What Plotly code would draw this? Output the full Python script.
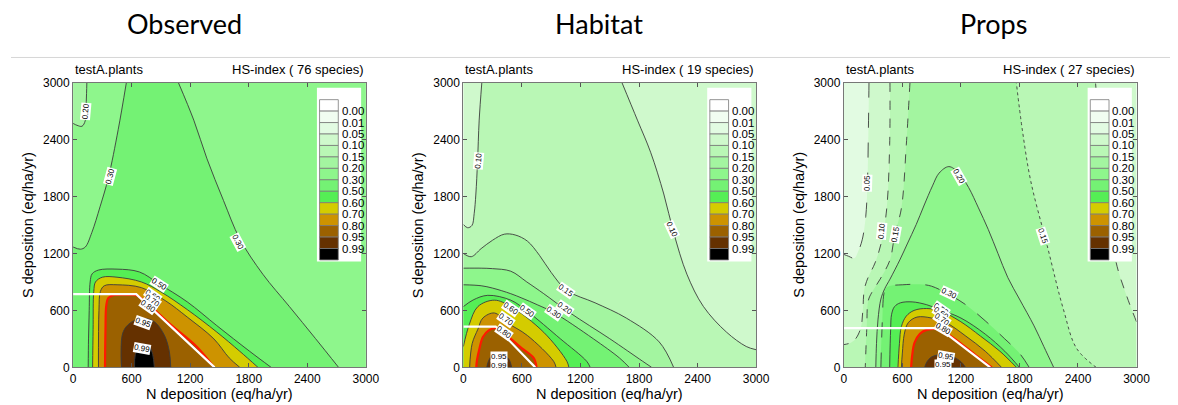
import plotly.graph_objects as go

# ---------------- shared scale / legend ----------------
LEVELS = [0.00, 0.01, 0.05, 0.10, 0.15, 0.20, 0.30, 0.50, 0.60, 0.70, 0.80, 0.95, 0.99]
LEVEL_TEXT = ["%.2f" % v for v in LEVELS]
# BAND_COLORS[k] = colour of values just below LEVELS[k]; last = above 0.99
BAND_COLORS = ["#ffffff", "#f1fdf1", "#e2fbe2", "#cff9cc", "#b9f7b5", "#a3f5a0",
               "#8ef68c", "#74f274", "#55ee55", "#d4cc00", "#cd9300", "#9b6100",
               "#653100", "#000000"]
PANEL_TITLES = ["Observed", "Habitat", "Props"]
SPECIES = [76, 19, 27]
AXIS_MAX = 3000
AXIS_TICKS = [0, 600, 1200, 1800, 2400, 3000]

# ---------------- Observed (N, S deposition along each HS-index contour) ----------------
OBS_020_N = [141, 135, 125, 91, 40, 0]
OBS_020_S = [3000, 2800, 2600, 2540, 2550, 2570]
OBS_030A_N = [546, 462, 361, 276, 192, 125, 74, 0]
OBS_030A_S = [3000, 2503, 1995, 1691, 1420, 1268, 1245, 1268]
OBS_030B_N = [2721, 2484, 2215, 1945, 1709, 1541, 1372, 1237, 1079]
OBS_030B_S = [0, 304, 643, 981, 1353, 1759, 2198, 2604, 3000]
OBS_050_N = [2030, 1810, 1473, 1170, 880, 680, 450, 260, 195, 175, 165, 158, 155]
OBS_050_S = [0, 169, 440, 690, 880, 1005, 1035, 1025, 985, 900, 600, 300, 0]
OBS_060_N = [1895, 1709, 1473, 1170, 900, 700, 450, 300, 230, 212, 205, 200]
OBS_060_S = [0, 169, 372, 609, 795, 900, 950, 950, 900, 800, 400, 0]
OBS_070_N = [1709, 1600, 1443, 1170, 950, 700, 450, 320, 280, 265, 260]
OBS_070_S = [0, 100, 300, 530, 700, 840, 870, 860, 800, 600, 0]
OBS_080_N = [1445, 1270, 1000, 780, 660, 550, 420, 360, 340, 332, 327]
OBS_080_S = [0, 215, 450, 655, 755, 765, 762, 730, 650, 400, 0]
OBS_095_N = [1001, 986, 936, 834, 733, 631, 546, 503, 496]
OBS_095_S = [0, 169, 338, 480, 515, 495, 430, 338, 0]
OBS_099_N = [833, 816, 782, 732, 681, 638, 630]
OBS_099_S = [0, 135, 220, 240, 220, 135, 0]
OBS_CL_N = [0, 647, 1450]
OBS_CL_S = [771, 771, 0]
OBS_LABELS = [("0.20", 125, 2700, -85), ("0.30", 378, 2012, -75), ("0.30", 1693, 1319, 62),
              ("0.50", 885, 872, 33), ("0.60", 815, 760, 35), ("0.70", 805, 700, 35),
              ("0.80", 770, 640, 35), ("0.95", 714, 470, 20), ("0.99", 705, 196, 10)]

# ---------------- Habitat ----------------
HAB_010A_N = [189, 162, 145, 128, 111, 88, 44, 0]
HAB_010A_S = [3000, 2604, 2164, 1826, 1623, 1495, 1471, 1505]
HAB_010B_N = [3000, 2899, 2696, 2459, 2291, 2155, 2054, 1919, 1784, 1625]
HAB_010B_S = [186, 220, 372, 643, 981, 1420, 1826, 2266, 2604, 3000]
HAB_015_N = [2155, 2007, 1669, 1350, 1061, 900, 780, 656, 530, 419, 300, 182, 81, 0]
HAB_015_S = [0, 268, 520, 680, 810, 1000, 1180, 1330, 1395, 1403, 1340, 1251, 1166, 1200]
HAB_020_N = [1930, 1838, 1500, 1095, 824, 650, 486, 300, 182, 0]
HAB_020_S = [0, 64, 302, 573, 776, 900, 1013, 1040, 1045, 1045]
HAB_030_N = [1700, 1601, 1331, 922, 757, 600, 486, 300, 182, 0]
HAB_030_S = [0, 98, 302, 580, 660, 730, 776, 835, 860, 870]
HAB_050_N = [1300, 1264, 993, 656, 486, 250, 100, 0]
HAB_050_S = [0, 64, 302, 590, 708, 759, 710, 640]
HAB_060_N = [1081, 1061, 824, 486, 318, 149, 60, 0]
HAB_060_S = [0, 64, 369, 641, 708, 641, 450, 220]
HAB_070_N = [950, 925, 656, 450, 318, 200, 149, 90, 64]
HAB_070_S = [0, 64, 336, 470, 573, 520, 403, 250, 0]
HAB_080_N = [750, 720, 600, 486, 380, 330, 260, 200, 165, 140, 132]
HAB_080_S = [0, 100, 200, 302, 395, 415, 390, 320, 200, 80, 0]
HAB_095_N = [495, 470, 420, 351, 290, 255, 240]
HAB_095_S = [0, 80, 125, 140, 120, 60, 0]
HAB_099_N = [400, 370, 330, 290, 275]
HAB_099_S = [0, 40, 50, 35, 0]
HAB_CL_N = [0, 331, 736]
HAB_CL_S = [430, 430, 0]
HAB_LABELS = [("0.10", 155, 2180, -85), ("0.10", 2139, 1454, 65), ("0.15", 1050, 812, 35),
              ("0.20", 1044, 624, 35), ("0.30", 925, 580, 35), ("0.50", 656, 590, 35),
              ("0.60", 486, 624, 35), ("0.70", 436, 505, 35), ("0.80", 419, 369, 35),
              ("0.95", 368, 115, 0), ("0.99", 368, 23, 0)]

# ---------------- Props ----------------
PRO_005_N = [258, 252, 242, 225, 190, 151, 107, 50, 0]
PRO_005_S = [3000, 2500, 1928, 1590, 1350, 1230, 1150, 1170, 1190]
PRO_010A_N = [473, 470, 440, 389, 320, 250, 210, 195, 175, 120, 60, 0]
PRO_010A_S = [3000, 2350, 1675, 1335, 1100, 950, 820, 600, 420, 300, 255, 240]
PRO_010B_N = [3000, 2900, 2789, 2700, 2620, 2580]
PRO_010B_S = [480, 750, 1115, 1800, 2500, 3000]
PRO_015A_N = [678, 641, 590, 523, 473, 372, 289, 250, 235, 220]
PRO_015A_S = [3000, 2352, 1675, 1403, 1132, 929, 793, 700, 400, 0]
PRO_015B_N = [2587, 2386, 2252, 2084, 1916, 1830, 1768]
PRO_015B_S = [0, 200, 607, 1284, 1963, 2500, 3000]
PRO_020_N = [2151, 2050, 1950, 1800, 1681, 1580, 1480, 1380, 1279, 1178, 1077, 977, 909,
             820, 742, 650, 574, 473, 420, 380, 350, 335, 328]
PRO_020_S = [0, 220, 437, 720, 946, 1200, 1454, 1680, 1895, 2047, 2115, 2047, 1912,
             1700, 1505, 1300, 1132, 929, 830, 720, 500, 250, 0]
PRO_030_N = [1900, 1800, 1650, 1450, 1250, 1074, 900, 779, 600, 480, 436, 412, 395, 380]
PRO_030_S = [0, 150, 300, 490, 660, 770, 855, 875, 870, 860, 840, 780, 500, 0]
PRO_050_N = [1800, 1650, 1450, 1200, 1007, 850, 700, 580, 520, 490, 480, 470]
PRO_050_S = [0, 170, 350, 520, 600, 660, 690, 680, 640, 560, 400, 0]
PRO_060_N = [1770, 1600, 1400, 1200, 1000, 850, 720, 640, 590, 570, 555]
PRO_060_S = [0, 170, 330, 480, 590, 620, 600, 540, 430, 250, 0]
PRO_070_N = [1617, 1450, 1250, 1050, 900, 750, 660, 620, 600, 590]
PRO_070_S = [0, 170, 330, 470, 520, 530, 470, 350, 150, 0]
PRO_080_N = [1517, 1350, 1150, 1000, 950, 850, 780, 725, 700, 690]
PRO_080_S = [0, 130, 290, 390, 405, 395, 355, 260, 120, 0]
PRO_095_N = [1248, 1200, 1100, 1000, 900, 850, 829]
PRO_095_S = [0, 60, 120, 135, 110, 55, 0]
PRO_CL_N = [0, 975, 1500]
PRO_CL_S = [414, 414, 0]
PRO_LABELS = [("0.05", 242, 1945, -88), ("0.10", 393, 1437, -85), ("0.15", 527, 1403, -80),
              ("0.20", 1181, 2012, 60), ("0.15", 2037, 1387, 72), ("0.30", 1081, 778, 25),
              ("0.50", 1000, 610, 35), ("0.60", 1000, 565, 35), ("0.70", 1005, 505, 35),
              ("0.80", 1013, 405, 30), ("0.95", 1047, 118, 10), ("0.95", 1013, 30, 0)]

PANELS = [
    {"contours": [(0.20, [(OBS_020_N, OBS_020_S)]),
                  (0.30, [(OBS_030A_N, OBS_030A_S), (OBS_030B_N, OBS_030B_S)]),
                  (0.50, [(OBS_050_N, OBS_050_S)]),
                  (0.60, [(OBS_060_N, OBS_060_S)]),
                  (0.70, [(OBS_070_N, OBS_070_S)]),
                  (0.80, [(OBS_080_N, OBS_080_S)]),
                  (0.95, [(OBS_095_N, OBS_095_S)]),
                  (0.99, [(OBS_099_N, OBS_099_S)])],
     "cl": (OBS_CL_N, OBS_CL_S), "labels": OBS_LABELS, "dash": {}},
    {"contours": [(0.10, [(HAB_010A_N, HAB_010A_S), (HAB_010B_N, HAB_010B_S)]),
                  (0.15, [(HAB_015_N, HAB_015_S)]),
                  (0.20, [(HAB_020_N, HAB_020_S)]),
                  (0.30, [(HAB_030_N, HAB_030_S)]),
                  (0.50, [(HAB_050_N, HAB_050_S)]),
                  (0.60, [(HAB_060_N, HAB_060_S)]),
                  (0.70, [(HAB_070_N, HAB_070_S)]),
                  (0.80, [(HAB_080_N, HAB_080_S)]),
                  (0.95, [(HAB_095_N, HAB_095_S)]),
                  (0.99, [(HAB_099_N, HAB_099_S)])],
     "cl": (HAB_CL_N, HAB_CL_S), "labels": HAB_LABELS, "dash": {}},
    {"contours": [(0.05, [(PRO_005_N, PRO_005_S)]),
                  (0.10, [(PRO_010A_N, PRO_010A_S), (PRO_010B_N, PRO_010B_S)]),
                  (0.15, [(PRO_015A_N, PRO_015A_S), (PRO_015B_N, PRO_015B_S)]),
                  (0.20, [(PRO_020_N, PRO_020_S)]),
                  (0.30, [(PRO_030_N, PRO_030_S)]),
                  (0.50, [(PRO_050_N, PRO_050_S)]),
                  (0.60, [(PRO_060_N, PRO_060_S)]),
                  (0.70, [(PRO_070_N, PRO_070_S)]),
                  (0.80, [(PRO_080_N, PRO_080_S)]),
                  (0.95, [(PRO_095_N, PRO_095_S)])],
     "cl": (PRO_CL_N, PRO_CL_S), "labels": PRO_LABELS,
     "dash": {(0.05, 0): "longdash", (0.10, 0): "dash", (0.10, 1): "dash",
              (0.15, 0): "dash", (0.15, 1): "dot", (0.30, 0): "longdash"}},
]

# ---------------- helpers: close a contour along the plot frame ----------------
L = float(AXIS_MAX)


def perim(x, y):
    tol = 1e-6
    if abs(y) < tol:
        return float(x)
    if abs(x - L) < tol:
        return L + float(y)
    if abs(y - L) < tol:
        return 2 * L + (L - float(x))
    return 3 * L + (L - float(y))


def perim_pt(t):
    t = t % (4 * L)
    if t <= L:
        return (t, 0.0)
    if t <= 2 * L:
        return (L, t - L)
    if t <= 3 * L:
        return (3 * L - t, L)
    return (0.0, 4 * L - t)


def boundary_walk(t0, t1, eps=2.0):
    if t1 <= t0:
        t1 += 4 * L
    ts = {t0 + eps, t1 - eps}
    for k in range(0, 9):
        c = k * L
        for d in (-eps, 0.0, eps):
            if t0 + eps <= c + d <= t1 - eps:
                ts.add(c + d)
    return [perim_pt(t) for t in sorted(ts)]


def level_polygon(segments):
    xs, ys = [], []
    n = len(segments)
    for i, (sx, sy) in enumerate(segments):
        xs += list(sx)
        ys += list(sy)
        nx, ny = segments[(i + 1) % n]
        for px, py in boundary_walk(perim(sx[-1], sy[-1]), perim(nx[0], ny[0])):
            xs.append(px)
            ys.append(py)
    return xs, ys


# ---------------- figure ----------------
# the page body adds an 8 px margin, so the layout is laid out 8 px up/left
W, H = 1178, 405
OFF = 8
PLOT_LEFT = [71 - OFF, 467 - OFF, 853 - OFF]
PLOT_W = 297
PLOT_TOP, PLOT_BOTTOM = 78 - OFF, 373 - OFF
TITLE_X = [184 - OFF, 605 - OFF, 1005 - OFF]
TITLE_Y = 9
SEP_Y = 52 - OFF

fig = go.Figure()
shapes, annotations = [], []
layout_axes = {}

for k, panel in enumerate(PANELS):
    ax = "" if k == 0 else str(k + 1)
    xa, ya = "x" + ax, "y" + ax
    xdom = "x" + ax + " domain"
    ydom = "y" + ax + " domain"

    # base colour = band below lowest contour of this panel
    lowest = panel["contours"][0][0]
    shapes.append(dict(type="rect", xref=xdom, yref=ydom, x0=0, x1=1, y0=0, y1=1,
                       fillcolor=BAND_COLORS[LEVELS.index(lowest)], line_width=0, layer="below"))

    for level, segs in panel["contours"]:
        px, py = level_polygon(segs)
        fig.add_trace(go.Scatter(x=px, y=py, xaxis=xa, yaxis=ya, mode="lines", fill="toself",
                                 fillcolor=BAND_COLORS[LEVELS.index(level) + 1],
                                 line=dict(width=0, shape="spline", simplify=False),
                                 hoverinfo="skip", showlegend=False))
    for level, segs in panel["contours"]:
        for j, (sx, sy) in enumerate(segs):
            red = abs(level - 0.80) < 1e-9
            fig.add_trace(go.Scatter(x=sx, y=sy, xaxis=xa, yaxis=ya, mode="lines",
                                     line=dict(color="#ff1a00" if red else "#3c3c3c",
                                               width=2.2 if red else 0.9,
                                               dash=panel["dash"].get((level, j), "solid"),
                                               shape="spline", simplify=False),
                                     hoverinfo="skip", showlegend=False))
    cx, cy = panel["cl"]
    fig.add_trace(go.Scatter(x=cx, y=cy, xaxis=xa, yaxis=ya, mode="lines",
                             line=dict(color="white", width=2.2), hoverinfo="skip", showlegend=False))

    for txt, lx, ly, ang in panel["labels"]:
        annotations.append(dict(x=lx, y=ly, xref=xa, yref=ya, text=txt, showarrow=False,
                                textangle=ang, bgcolor="white", borderpad=0,
                                font=dict(size=8, color="black", family="Liberation Sans")))

    x0 = PLOT_LEFT[k] / W
    x1 = (PLOT_LEFT[k] + PLOT_W) / W
    axis_common = dict(range=[0, AXIS_MAX], tickvals=AXIS_TICKS, ticks="inside", ticklen=4,
                       tickcolor="#555", showline=True, linecolor="#777", linewidth=1,
                       mirror="ticks", showgrid=False, zeroline=False,
                       tickfont=dict(size=12, color="black", family="Liberation Sans"))
    layout_axes["xaxis" + ax] = dict(domain=[x0, x1], anchor=ya, **axis_common)
    layout_axes["yaxis" + ax] = dict(domain=[1 - PLOT_BOTTOM / H, 1 - PLOT_TOP / H], anchor=xa,
                                     **axis_common)

    # legend box
    shapes.append(dict(type="rect", xref=xdom, yref=ydom, x0=0.833, x1=0.984, y0=0.372, y1=0.982,
                       fillcolor="white", line_width=0, layer="above"))
    sw_top, sw_h = 0.940, 0.0402
    for i, col in enumerate(BAND_COLORS):
        shapes.append(dict(type="rect", xref=xdom, yref=ydom, x0=0.842, x1=0.906,
                           y0=sw_top - (i + 1) * sw_h, y1=sw_top - i * sw_h,
                           fillcolor=col, line=dict(color="#7a7a7a", width=0.8), layer="above"))
    for j, txt in enumerate(LEVEL_TEXT):
        annotations.append(dict(x=0.911, y=sw_top - (j + 1) * sw_h, xref=xdom, yref=ydom,
                                text=txt, showarrow=False, xanchor="left", yanchor="middle",
                                font=dict(size=11.5, color="black", family="Liberation Sans")))

    # panel header texts
    annotations.append(dict(x=0, y=1, xref=xdom, yref=ydom, text="testA.plants", showarrow=False,
                            xanchor="left", yanchor="middle", yshift=13,
                            font=dict(size=13, color="black", family="Liberation Sans")))
    annotations.append(dict(x=1, y=1, xref=xdom, yref=ydom,
                            text="HS-index ( %d species)" % SPECIES[k], showarrow=False,
                            xanchor="right", yanchor="middle", yshift=13,
                            font=dict(size=13, color="black", family="Liberation Sans")))
    # axis titles
    annotations.append(dict(x=0.5, y=0, xref=xdom, yref=ydom, text="N deposition (eq/ha/yr)",
                            showarrow=False, xanchor="center", yanchor="middle", yshift=-26.5,
                            borderpad=0,
                            font=dict(size=14.5, color="black", family="Liberation Sans")))
    annotations.append(dict(x=0, y=0.5, xref=xdom, yref=ydom, text="S deposition (eq/ha/yr)",
                            showarrow=False, xanchor="center", yanchor="middle", xshift=-45,
                            textangle=-90,
                            font=dict(size=14.5, color="black", family="Liberation Sans")))
    # big panel title
    annotations.append(dict(x=TITLE_X[k] / W, y=1 - TITLE_Y / H, xref="paper", yref="paper",
                            text=PANEL_TITLES[k], showarrow=False, xanchor="center",
                            yanchor="middle", font=dict(size=27, color="black", family="Lato")))

shapes.append(dict(type="line", xref="paper", yref="paper", x0=0, x1=1, y0=1 - SEP_Y / H,
                   y1=1 - SEP_Y / H, line=dict(color="#d6d6d6", width=1)))

fig.update_layout(width=W, height=H, margin=dict(l=0, r=0, t=0, b=0),
                  paper_bgcolor="white", plot_bgcolor="white", showlegend=False,
                  shapes=shapes, annotations=annotations, **layout_axes)

fig.write_html("out.html")
